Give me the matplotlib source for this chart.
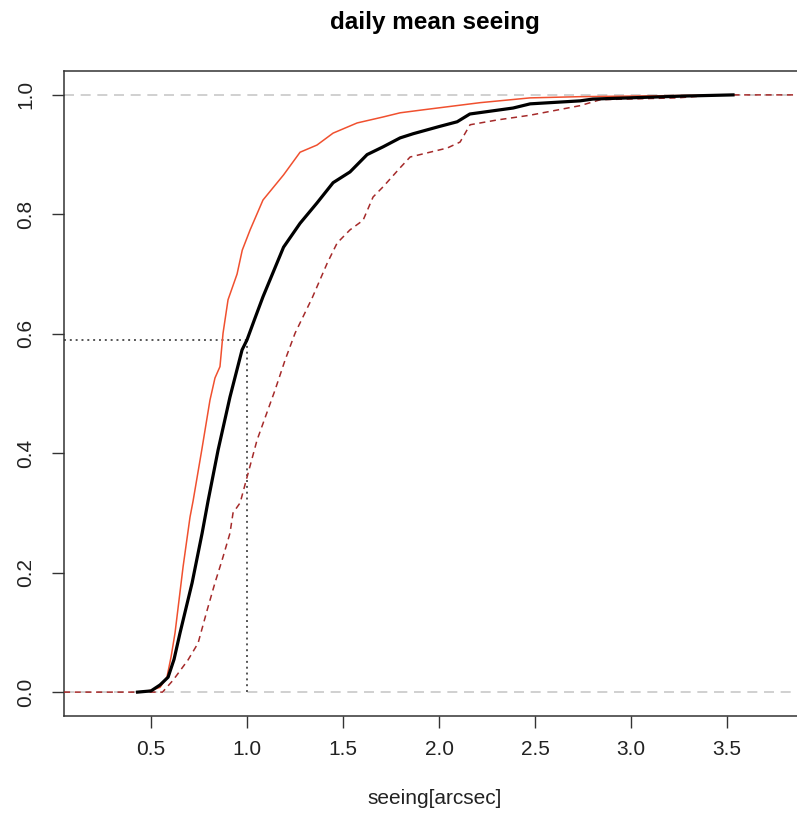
import numpy as np
import matplotlib
import matplotlib.pyplot as plt

matplotlib.use('Agg')

# значения (seeing, F)
all_seeing = [0.43, 0.50, 0.547, 0.589, 0.62, 0.651, 0.714, 0.766, 0.797, 0.849, 0.911,
              0.974, 1.0, 1.04, 1.083, 1.19, 1.276, 1.364, 1.448, 1.536, 1.625, 1.708,
              1.797, 1.865, 2.0, 2.094, 2.16, 2.385, 2.474, 2.734, 2.80, 3.27, 3.53]
all_cdf = [0.0, 0.002, 0.012, 0.025, 0.055, 0.099, 0.183, 0.266, 0.32, 0.405, 0.494,
           0.573, 0.59, 0.625, 0.662, 0.745, 0.785, 0.819, 0.853, 0.871, 0.90, 0.913,
           0.928, 0.935, 0.947, 0.955, 0.968, 0.978, 0.985, 0.99, 0.993, 0.998, 1.0]

good_seeing = [0.44, 0.50, 0.547, 0.583, 0.605, 0.625, 0.667, 0.703, 0.719, 0.764, 0.807,
               0.833, 0.859, 0.875, 0.901, 0.948, 0.975, 1.016, 1.083, 1.19, 1.276, 1.364,
               1.448, 1.573, 1.708, 1.797, 1.917, 2.214, 2.474, 2.73, 3.53]
good_cdf = [0.0, 0.003, 0.008, 0.025, 0.06, 0.099, 0.21, 0.293, 0.32, 0.405, 0.489,
            0.526, 0.545, 0.601, 0.657, 0.70, 0.74, 0.774, 0.824, 0.866, 0.904, 0.916,
            0.936, 0.953, 0.963, 0.97, 0.975, 0.987, 0.995, 0.997, 1.0]

bad_seeing = [0.56, 0.615, 0.693, 0.745, 0.792, 0.833, 0.870, 0.911, 0.927, 0.964, 1.005,
              1.052, 1.146, 1.198, 1.25, 1.339, 1.417, 1.469, 1.536, 1.604, 1.656, 1.708,
              1.797, 1.849, 2.042, 2.109, 2.161, 2.302, 2.474, 2.734, 2.84, 3.24, 3.45]
bad_cdf = [0.0, 0.02, 0.054, 0.082, 0.137, 0.183, 0.221, 0.266, 0.30, 0.317, 0.366,
           0.422, 0.506, 0.556, 0.601, 0.66, 0.718, 0.752, 0.774, 0.79, 0.829, 0.846,
           0.878, 0.896, 0.911, 0.921, 0.95, 0.958, 0.966, 0.982, 0.992, 0.995, 1.0]

x_ticks = [0.5, 1.0, 1.5, 2.0, 2.5, 3.0, 3.5]
y_ticks = [0.0, 0.2, 0.4, 0.6, 0.8, 1.0]
mark_x, mark_y = 1.0, 0.59

plt.rcParams['font.family'] = ['Liberation Sans', 'DejaVu Sans']

fig = plt.figure(figsize=(7.97, 8.17), dpi=100)
ax = fig.add_axes([64 / 797, 101 / 817, 742 / 797, 645 / 817])
xlim = (0.047, 3.91)
ylim = (-0.04, 1.04)
ax.set_xlim(*xlim)
ax.set_ylim(*ylim)

# горизонтальные линии 0 и 1
for h in (0.0, 1.0):
    ax.axhline(h, color='#c8c8c8', lw=1.2, ls=(0, (6, 4)), zorder=1)

# пунктир до точки (1.0, 0.59)
ax.plot([xlim[0], mark_x], [mark_y, mark_y], color='#555555', lw=1.4, ls=(0, (1, 2)), zorder=2)
ax.plot([mark_x, mark_x], [0.0, mark_y], color='#555555', lw=1.4, ls=(0, (1, 2)), zorder=2)

# кривые распределения
bx = [xlim[0]] + bad_seeing + [xlim[1]]
by = [0.0] + bad_cdf + [1.0]
ax.plot(bx, by, color='#a52a2a', lw=1.1, ls=(0, (4, 3)), zorder=3)
ax.plot(good_seeing, good_cdf, color='#f0502f', lw=1.1, zorder=4)
ax.plot(all_seeing, all_cdf, color='black', lw=2.3, zorder=5)

ax.set_xticks(x_ticks)
ax.set_xticklabels(['%.1f' % v for v in x_ticks])
ax.set_yticks(y_ticks)
ax.set_yticklabels(['%.1f' % v for v in y_ticks], rotation=90, va='center')

ax.tick_params(axis='both', length=8.5, width=1, color='#333333', labelsize=15, labelcolor='#222222')
ax.tick_params(axis='x', pad=9)
ax.tick_params(axis='y', pad=12)

for side in ('left', 'bottom', 'top', 'right'):
    ax.spines[side].set_color('#333333')
    ax.spines[side].set_linewidth(1.1)

fig.text(435 / 797, 1 - 22 / 817, 'daily mean seeing', ha='center', va='center',
         fontsize=17.5, fontweight='bold')
fig.text(435 / 797, 18 / 817, 'seeing[arcsec]', ha='center', va='center', fontsize=15,
         color='#222222')

fig.savefig('out.png', dpi=100)
